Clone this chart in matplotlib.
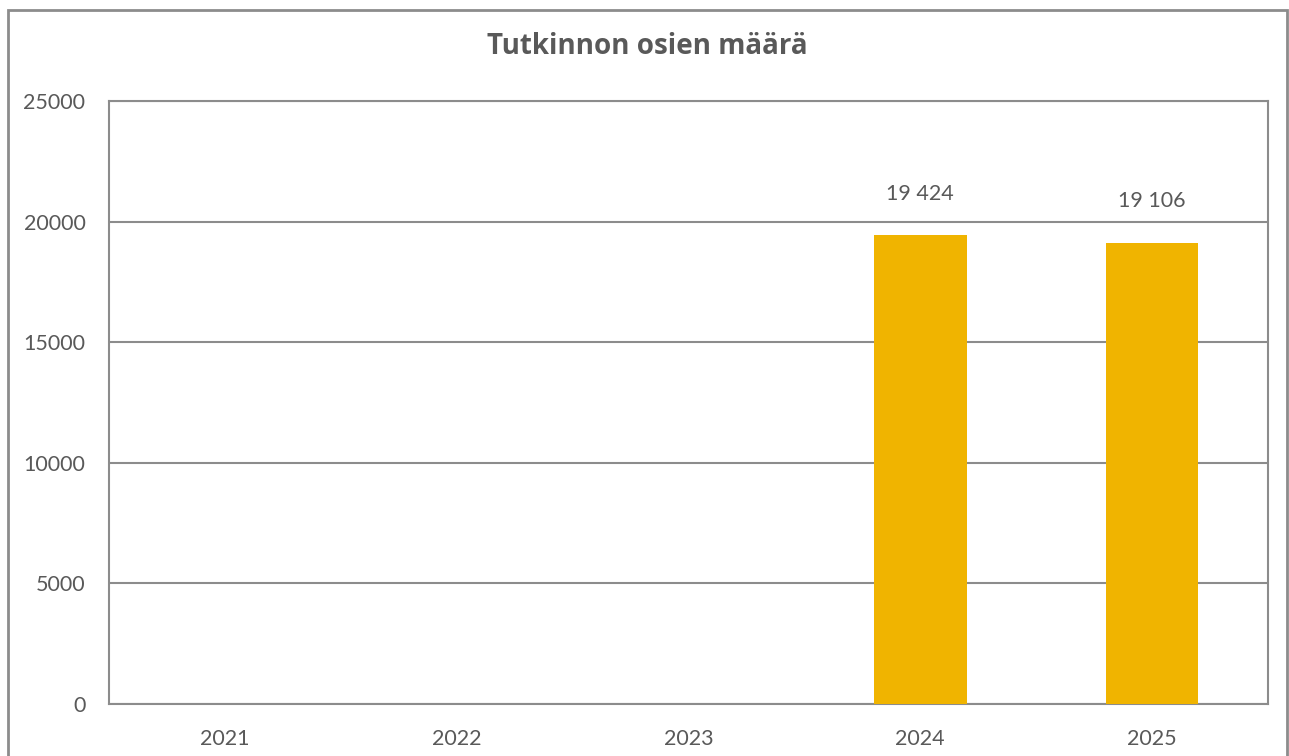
import matplotlib.pyplot as plt
from matplotlib.patches import Rectangle

vuodet = ["2021", "2022", "2023", "2024", "2025"]
maarat = [0, 0, 0, 19424, 19106]
y_tikit = [0, 5000, 10000, 15000, 20000, 25000]

harmaa = "#595959"
viiva = "#8c8c8c"

plt.rcParams['font.family'] = ['Lato', 'DejaVu Sans']

fig = plt.figure(figsize=(12.89, 7.56), dpi=100)
ax = fig.add_axes([109 / 1289, 1 - 704 / 756, 1159 / 1289, 603 / 756])

x = range(len(vuodet))
ax.bar(x, maarat, width=0.40, color="#F0B400", zorder=3)

# arvot palkkien yläpuolelle (vain jos arvo > 0)
for xi, m in zip(x, maarat):
    if m > 0:
        teksti = f"{m:,}".replace(",", " ")
        ax.annotate(teksti, (xi, m), xytext=(0, 30), textcoords="offset points",
                    ha="center", va="center", fontsize=15.5, color=harmaa)

ax.set_xlim(-0.5, len(vuodet) - 0.5)
ax.set_ylim(0, 25000)
ax.set_xticks(list(x))
ax.set_xticklabels(vuodet)
ax.set_yticks(y_tikit)
ax.set_yticklabels([str(t) for t in y_tikit])
ax.tick_params(axis="both", length=0, labelsize=15.5, labelcolor=harmaa)
ax.tick_params(axis="y", pad=17)
ax.tick_params(axis="x", pad=18)

ax.grid(axis="y", color=viiva, linewidth=1.5, zorder=0)
for s in ax.spines.values():
    s.set_color(viiva)
    s.set_linewidth(1.5)

fig.text(647 / 1289, 1 - 47 / 756, "Tutkinnon osien määrä", ha="center", va="center",
         fontsize=20, fontweight="bold", color=harmaa,
         family=['Open Sans', 'DejaVu Sans'])

# kaavion ulkoreuna
fig.patches.append(Rectangle((7.5 / 1289, -0.1), 1279 / 1289, 1.1 - 10.5 / 756,
                             transform=fig.transFigure, fill=False,
                             edgecolor=viiva, linewidth=2, clip_on=False))

fig.savefig("out.png", dpi=100)
